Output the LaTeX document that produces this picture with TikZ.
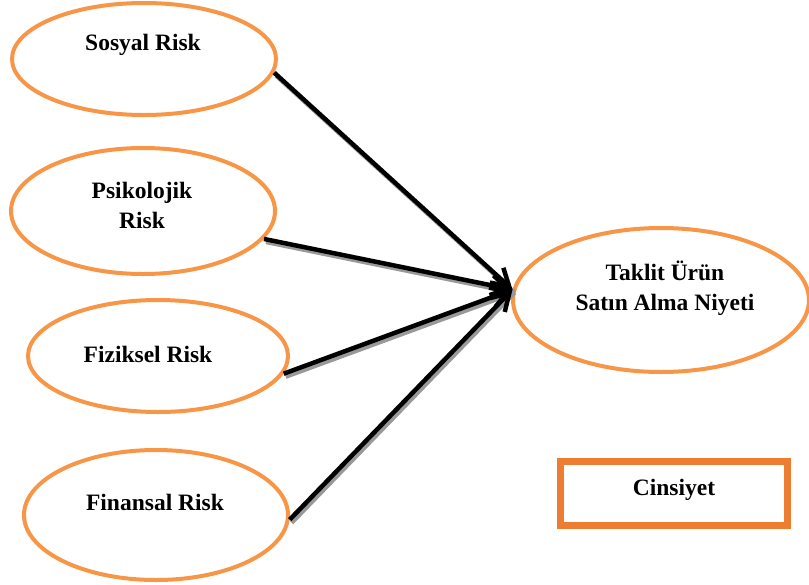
\documentclass[tikz,border=0pt]{standalone}
\usepackage{fontspec}
\setmainfont{Liberation Serif}
\usetikzlibrary{arrows.meta,shapes.geometric}
\definecolor{riskorange}{HTML}{F79646}
\definecolor{boxorange}{HTML}{ED7D31}

\begin{document}
\begin{tikzpicture}[x=1pt,y=1pt,
  risk/.style={draw=riskorange,line width=4pt,ellipse,inner sep=0pt},
  lbl/.style={font=\fontsize{23.5}{30}\selectfont\bfseries,align=center,inner sep=0pt},
  link/.style={line width=4.5pt,-{Straight Barb[length=17pt,width=20pt,line width=4.5pt]}},
  shade/.style={line width=4.5pt,black!40}]
\useasboundingbox (0,0) rectangle (809,-584);
% risk factors
\node[risk,minimum width=264,minimum height=112] (sosyal) at (144,-59) {};
\node[risk,minimum width=264,minimum height=126] (psiko) at (143,-211) {};
\node[risk,minimum width=260,minimum height=112] (fizik) at (158,-356) {};
\node[risk,minimum width=264,minimum height=130] (finans) at (156,-515) {};
\node[risk,minimum width=296,minimum height=144] (taklit) at (661,-300) {};
\node[draw=boxorange,line width=7pt,minimum width=227,minimum height=64,inner sep=0pt] (cins) at (674,-493) {};
% texts
\node[lbl] (sosyalT) at (143,-45) {Sosyal Risk};
\node[lbl] (psikoT) at (142,-205) {Psikolojik\\Risk};
\node[lbl] (fizikT) at (148,-354) {Fiziksel Risk};
\node[lbl] (finansT) at (155,-502) {Finansal Risk};
\node[lbl] (taklitT) at (665,-288) {Taklit Ürün\\Satın Alma Niyeti};
\node[lbl] (cinsT) at (674,-490) {Cinsiyet};
% arrows with shadow
\foreach \src/\ang in {sosyal/-6,psiko/-13,fizik/-8,finans/-2}
  \draw[shade] ([shift={(2,-3)}]\src.\ang) -- ([shift={(2,-3)}]taklit.176);
\foreach \src/\ang in {sosyal/-6,psiko/-13,fizik/-8,finans/-2}
  \draw[link] (\src.\ang) -- (taklit.176);
\end{tikzpicture}
\end{document}
